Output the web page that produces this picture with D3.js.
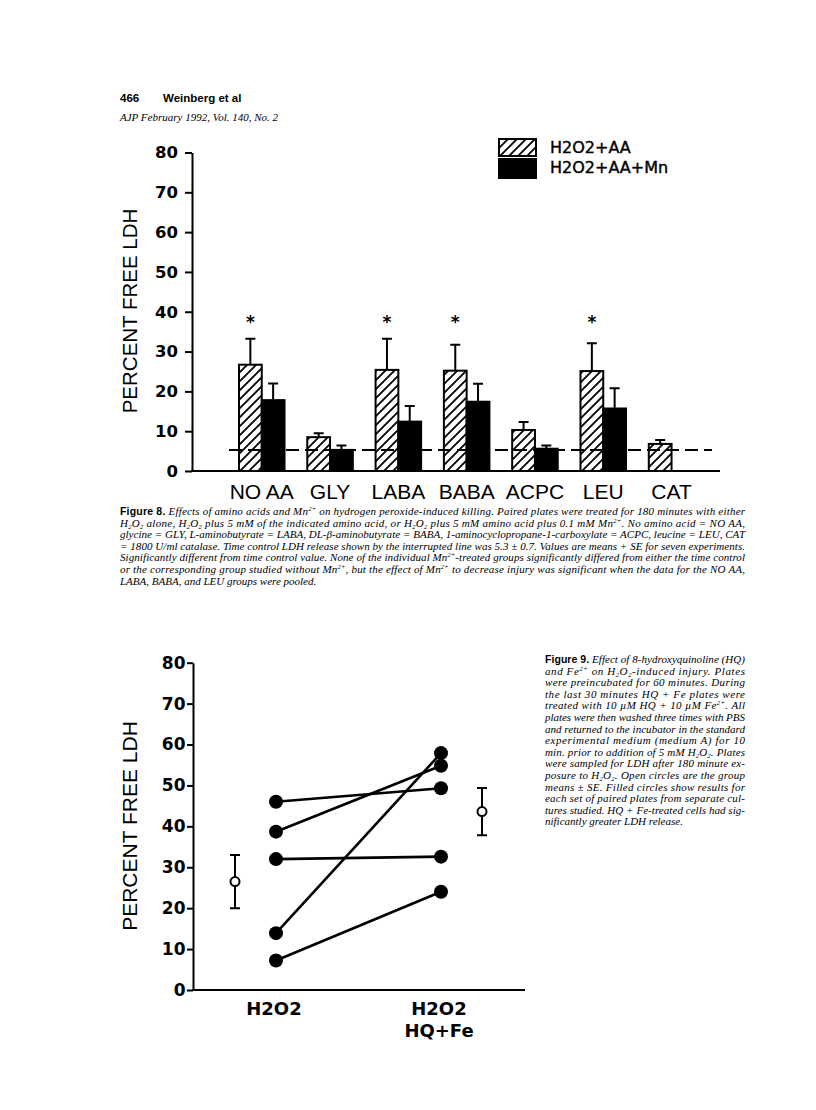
<!DOCTYPE html>
<html>
<head>
<meta charset="utf-8">
<script src="https://cdn.jsdelivr.net/npm/d3@7"></script>
<style>
  body { margin: 0; background: #fff; }
</style>
</head>
<body>
<div id="main"></div>
<script>
// ---- figure 8 data ----
var groups = ["NO AA", "GLY", "LABA", "BABA", "ACPC", "LEU", "CAT"];
var series = ["H2O2+AA", "H2O2+AA+Mn"];
var aaMean = [26.7, 8.5, 25.4, 25.2, 10.3, 25.1, 6.8];
var aaSE   = [6.5, 1.0, 7.8, 6.5, 2.0, 7.0, 1.0];
var mnMean = [17.8, 5.3, 12.4, 17.4, 5.6, 15.7, null];
var mnSE   = [4.2, 1.1, 3.9, 4.5, 0.8, 5.1, null];
var starred = [true, false, true, true, false, true, false];
var timeControl = 5.3;
var yTicks = [0, 10, 20, 30, 40, 50, 60, 70, 80];

// ---- figure 9 data ----
var treatments = ["H2O2", "H2O2 HQ+Fe"];
var treatmentLines = [["H2O2"], ["H2O2", "HQ+Fe"]];
var plateH2O2 = [46.0, 38.7, 32.0, 13.9, 7.2];
var plateHQFe = [49.3, 54.8, 32.6, 57.9, 24.0];
var groupMean = [26.5, 43.6];
var groupSE = [6.5, 5.8];

// ---- page text ----
var cap8 = [
  "**Figure 8.** Effects of amino acids and Mn{^2+} on hydrogen peroxide-induced killing. Paired plates were treated for 180 minutes with either",
  "H{_2}O{_2} alone, H{_2}O{_2} plus 5 mM of the indicated amino acid, or H{_2}O{_2} plus 5 mM amino acid plus 0.1 mM Mn{^2+}. No amino acid = NO AA,",
  "glycine = GLY, L-aminobutyrate = LABA, DL-\u03b2-aminobutyrate = BABA, 1-aminocyclopropane-1-carboxylate = ACPC, leucine = LEU, CAT",
  "= 1800 U/ml catalase. Time control LDH release shown by the interrupted line was 5.3 \u00b1 0.7. Values are means + SE for seven experiments.",
  "*Significantly different from time control value. None of the individual Mn{^2+}-treated groups significantly differed from either the time control",
  "or the corresponding group studied without Mn{^2+}, but the effect of Mn{^2+} to decrease injury was significant when the data for the NO AA,",
  "LABA, BABA, and LEU groups were pooled."
];
var cap9 = [
  "**Figure 9.** Effect of 8-hydroxyquinoline (HQ)",
  "and Fe{^2+} on H{_2}O{_2}-induced injury. Plates",
  "were preincubated for 60 minutes. During",
  "the last 30 minutes HQ + Fe plates were",
  "treated with 10 \u00b5M HQ + 10 \u00b5M Fe{^2+}. All",
  "plates were then washed three times with PBS",
  "and returned to the incubator in the standard",
  "experimental medium (medium A) for 10",
  "min. prior to addition of 5 mM H{_2}O{_2}. Plates",
  "were sampled for LDH after 180 minute ex-",
  "posure to H{_2}O{_2}. Open circles are the group",
  "means \u00b1 SE. Filled circles show results for",
  "each set of paired plates from separate cul-",
  "tures studied. HQ + Fe-treated cells had sig-",
  "nificantly greater LDH release."
];

var svg = d3.select("#main").append("svg")
    .attr("width", 816)
    .attr("height", 1110)
    .style("background", "#fff");

var pat = svg.append("defs").append("pattern")
    .attr("id", "hatch")
    .attr("patternUnits", "userSpaceOnUse")
    .attr("width", 9)
    .attr("height", 9);
pat.append("rect").attr("width", 9).attr("height", 9).attr("fill", "#fff");
pat.append("path")
    .attr("d", "M-2,2 L2,-2 M0,9 L9,0 M7,11 L11,7")
    .attr("stroke", "#000")
    .attr("stroke-width", 1.8);

// rich text line: **bold**, {_sub}, {^sup}
function richLine(x, y, str, size, width) {
  var t = svg.append("text")
      .attr("x", x).attr("y", y)
      .attr("font-family", "Liberation Serif")
      .attr("font-style", "italic")
      .attr("font-size", size);
  var re = /\*\*(.+?)\*\*|\{_(.+?)\}|\{\^(.+?)\}|([^*{]+)/g, m, shift = 0;
  while ((m = re.exec(str)) !== null) {
    var sp;
    if (m[1]) {
      sp = t.append("tspan").attr("font-family", "Liberation Sans").attr("font-style", "normal")
        .attr("font-weight", "bold").attr("font-size", size - 0.5).text(m[1]);
    } else if (m[2] || m[3]) {
      var want = m[2] ? 2 : -4;
      sp = t.append("tspan").attr("font-size", size * 0.6).attr("dy", want - shift).text(m[2] || m[3]);
      shift = want;
      continue;
    } else {
      sp = t.append("tspan").text(m[4]);
    }
    if (shift) { sp.attr("dy", -shift); shift = 0; }
  }
  if (width) t.attr("textLength", width).attr("lengthAdjust", "spacing");
}

// header
svg.append("text").attr("x", 120).attr("y", 102)
    .attr("font-family", "Liberation Sans").attr("font-weight", "bold").attr("font-size", 11.5)
    .text("466");
svg.append("text").attr("x", 163).attr("y", 102)
    .attr("font-family", "Liberation Sans").attr("font-weight", "bold").attr("font-size", 11.5)
    .text("Weinberg et al");
svg.append("text").attr("x", 120).attr("y", 121)
    .attr("font-family", "Liberation Serif").attr("font-style", "italic").attr("font-size", 11)
    .text("AJP February 1992, Vol. 140, No. 2");

// ================= Figure 8 =================
var y8 = d3.scaleLinear().domain([0, 80]).range([471, 152.5]);
var x8 = d3.scaleBand().domain(groups).range([227.6, 705.7]).paddingInner(1 / 3).paddingOuter(1 / 6);
var xs = d3.scaleBand().domain(series).range([0, x8.bandwidth()]);

var bars = [];
groups.forEach(function (g, i) {
  bars.push({ g: g, s: series[0], v: aaMean[i], se: aaSE[i] });
  if (mnMean[i] != null) bars.push({ g: g, s: series[1], v: mnMean[i], se: mnSE[i] });
});

var f8 = svg.append("g");

f8.selectAll(".err").data(bars).enter().append("path")
    .attr("d", function (d) {
      var cx = x8(d.g) + xs(d.s) + xs.bandwidth() / 2;
      var top = y8(d.v + d.se);
      return "M" + cx + "," + y8(d.v) + "V" + top + "M" + (cx - 5) + "," + top + "H" + (cx + 5);
    })
    .attr("stroke", "#000").attr("stroke-width", 2).attr("fill", "none");

f8.selectAll(".bar").data(bars).enter().append("rect")
    .attr("x", function (d) { return x8(d.g) + xs(d.s); })
    .attr("y", function (d) { return y8(d.v); })
    .attr("width", xs.bandwidth())
    .attr("height", function (d) { return y8(0) - y8(d.v); })
    .attr("fill", function (d) { return d.s === series[0] ? "url(#hatch)" : "#000"; })
    .attr("stroke", "#000").attr("stroke-width", 2);

// time control
f8.append("line")
    .attr("x1", 229).attr("x2", 712)
    .attr("y1", y8(timeControl)).attr("y2", y8(timeControl))
    .attr("stroke", "#000").attr("stroke-width", 2).attr("stroke-dasharray", "13,6");

f8.selectAll(".star").data(groups.filter(function (g, i) { return starred[i]; })).enter().append("text")
    .attr("x", function (g) { return x8(g) + xs(series[0]) + xs.bandwidth() / 2; })
    .attr("y", y8(38) + 8)
    .attr("text-anchor", "middle")
    .attr("font-family", "DejaVu Sans").attr("font-weight", "bold").attr("font-size", 17)
    .text("*");

var ax8 = f8.append("g").attr("transform", "translate(192,0)")
    .call(d3.axisLeft(y8).tickValues(yTicks).tickSize(7).tickPadding(7).tickSizeOuter(0));
ax8.attr("font-family", "DejaVu Sans").attr("font-weight", "bold").attr("font-size", 16.5);
ax8.selectAll("path,line").attr("stroke", "#000").attr("stroke-width", 2);
ax8.selectAll("text").attr("fill", "#000");

f8.append("line").attr("x1", 191).attr("x2", 720).attr("y1", y8(0)).attr("y2", y8(0))
    .attr("stroke", "#000").attr("stroke-width", 2);

f8.selectAll(".cat").data(groups).enter().append("text")
    .attr("x", function (g) { return x8(g) + x8.bandwidth() / 2; })
    .attr("y", 499)
    .attr("text-anchor", "middle")
    .attr("font-family", "Liberation Sans").attr("font-size", 21)
    .text(function (g) { return g; });

f8.append("text")
    .attr("transform", "translate(137,311) rotate(-90)")
    .attr("text-anchor", "middle")
    .attr("font-family", "Liberation Sans").attr("font-size", 20.5)
    .text("PERCENT FREE LDH");

// legend
var lg = f8.append("g").attr("transform", "translate(499,139)");
lg.selectAll("rect").data(series).enter().append("rect")
    .attr("x", 0).attr("y", function (d, i) { return i * 20; })
    .attr("width", 37).attr("height", function (d, i) { return i ? 19 : 17; })
    .attr("fill", function (d, i) { return i ? "#000" : "url(#hatch)"; })
    .attr("stroke", "#000").attr("stroke-width", 2);
lg.selectAll("text").data(series).enter().append("text")
    .attr("x", 51).attr("y", function (d, i) { return 14 + i * 20; })
    .attr("font-family", "DejaVu Sans").attr("font-size", 16)
    .attr("stroke", "#000").attr("stroke-width", 0.4)
    .text(function (d) { return d; });

cap8.forEach(function (line, i) {
  richLine(120, 515 + i * 11.6, line, 11, i < cap8.length - 1 ? 625 : null);
});

// ================= Figure 9 =================
var y9 = d3.scaleLinear().domain([0, 80]).range([990, 662.7]);
var x9 = d3.scalePoint().domain(treatments).range([276, 441]);
var f9 = svg.append("g");

var ax9 = f9.append("g").attr("transform", "translate(193,0)")
    .call(d3.axisLeft(y9).tickValues(yTicks).tickSize(6).tickPadding(1.5).tickSizeOuter(0));
ax9.attr("font-family", "DejaVu Sans").attr("font-weight", "bold").attr("font-size", 17);
ax9.selectAll("path,line").attr("stroke", "#000").attr("stroke-width", 2);
ax9.selectAll("text").attr("fill", "#000");

f9.append("line").attr("x1", 192).attr("x2", 525).attr("y1", y9(0)).attr("y2", y9(0))
    .attr("stroke", "#000").attr("stroke-width", 2);

f9.append("text")
    .attr("transform", "translate(137,826) rotate(-90)")
    .attr("text-anchor", "middle")
    .attr("font-family", "Liberation Sans").attr("font-size", 21)
    .text("PERCENT FREE LDH");

treatments.forEach(function (t, i) {
  f9.selectAll(".tl" + i).data(treatmentLines[i]).enter().append("text")
      .attr("x", x9(t) - 2)
      .attr("y", function (d, j) { return 1015 + j * 22; })
      .attr("text-anchor", "middle")
      .attr("font-family", "DejaVu Sans").attr("font-weight", "bold").attr("font-size", 18)
      .text(function (d) { return d; });
});

var pairs = plateH2O2.map(function (v, i) { return [v, plateHQFe[i]]; });
f9.selectAll(".pair").data(pairs).enter().append("line")
    .attr("x1", x9(treatments[0])).attr("x2", x9(treatments[1]))
    .attr("y1", function (d) { return y9(d[0]); })
    .attr("y2", function (d) { return y9(d[1]); })
    .attr("stroke", "#000").attr("stroke-width", 2.6);

var dots = [];
pairs.forEach(function (p) { dots.push({ t: treatments[0], v: p[0] }); dots.push({ t: treatments[1], v: p[1] }); });
f9.selectAll(".dot").data(dots).enter().append("circle")
    .attr("cx", function (d) { return x9(d.t); })
    .attr("cy", function (d) { return y9(d.v); })
    .attr("r", 7)
    .attr("fill", "#000");

// group means +/- SE, set beside each column
var side = [-41, 41];
treatments.forEach(function (t, i) {
  var cx = x9(t) + side[i];
  f9.append("path")
      .attr("d", "M" + cx + "," + y9(groupMean[i] + groupSE[i]) + "V" + y9(groupMean[i] - groupSE[i]) +
        "M" + (cx - 5) + "," + y9(groupMean[i] + groupSE[i]) + "h10" +
        "M" + (cx - 5) + "," + y9(groupMean[i] - groupSE[i]) + "h10")
      .attr("stroke", "#000").attr("stroke-width", 2).attr("fill", "none");
  f9.append("circle")
      .attr("cx", cx).attr("cy", y9(groupMean[i]))
      .attr("r", 4.5)
      .attr("fill", "#fff").attr("stroke", "#000").attr("stroke-width", 2);
});

cap9.forEach(function (line, i) {
  richLine(545, 663 + i * 11.6, line, 11, i < cap9.length - 1 ? 200 : null);
});
</script>
</body>
</html>
